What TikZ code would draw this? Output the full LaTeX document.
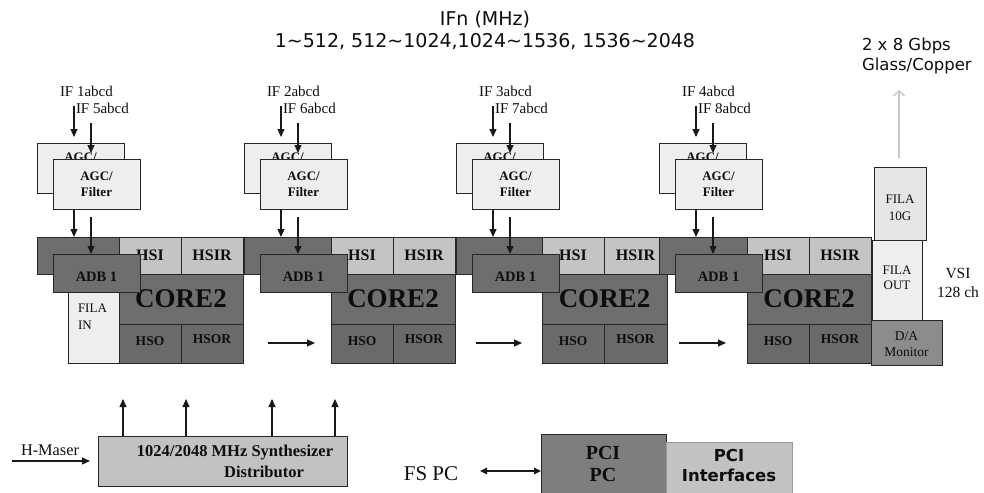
\documentclass[tikz,border=0pt]{standalone}
\usepackage{fontspec}
\setmainfont{Liberation Serif}
\newfontfamily\vfont{DejaVu Sans}
\usetikzlibrary{arrows.meta}

\definecolor{lightfill}{HTML}{EEEEEE}
\definecolor{filagfill}{HTML}{E6E6E6}
\definecolor{darkfill}{HTML}{6E6E6E}
\definecolor{hsofill}{HTML}{6A6A6A}
\definecolor{hsifill}{HTML}{C4C4C4}
\definecolor{dafill}{HTML}{8C8C8C}
\definecolor{synthfill}{HTML}{C2C2C2}
\definecolor{pcifill}{HTML}{7E7E7E}
\definecolor{ifacefill}{HTML}{C2C2C2}
\definecolor{edge}{HTML}{262626}
\definecolor{fibre}{HTML}{C8C8C8}

\newcommand\fs[2]{\fontsize{#1}{#2}\selectfont}
% shift a label vertically without changing the size the node sees
\newcommand\vshift[2]{\raisebox{#1}[\height][\depth]{#2}}
% rectangle node given by its corners: style, name, x1, y1, x2, y2, text
\newcommand\rectnode[7]{%
  \node[#1, anchor=north west, minimum width={(#5)-(#3)},
        minimum height={(#6)-(#4)}] (#2) at (#3,#4) {#7};}

\tikzset{
  box/.style={draw=edge, line width=1pt, inner sep=0pt, outer sep=0pt,
              align=center, text=black!95},
  agcbox/.style={box, fill=lightfill, font=\bfseries\fs{13}{16}},
  adbbox/.style={box, fill=darkfill, font=\bfseries\fs{14.5}{17}},
  hsibox/.style={box, fill=hsifill, font=\bfseries\fs{16}{18}},
  corebox/.style={box, fill=darkfill, font=\bfseries\fs{27}{30}},
  hsobox/.style={box, fill=hsofill, font=\bfseries\fs{13.5}{16}},
  filabox/.style={box, fill=lightfill, font=\fs{13}{16.5}},
  txt/.style={inner sep=0pt, outer sep=0pt, text=black!95},
  iflabel/.style={txt, anchor=west, font=\fs{15}{17}},
  arr/.style={draw=black!90, line width=1.1pt, -{Triangle[length=8pt,width=7pt]}},
  dblarr/.style={draw=black!90, line width=1.1pt,
                 {Triangle[length=7pt,width=6.5pt]}-{Triangle[length=7pt,width=6.5pt]}},
  fibrearr/.style={draw=fibre, line width=1.4pt, -{Straight Barb[length=5pt,width=11pt]}},
  sans/.style={txt, font=\vfont\fs{19}{22}},
}

\begin{document}
\begin{tikzpicture}[x=1pt,y=-1pt]
\useasboundingbox (0,0) rectangle (984,492);
\clip (0,0) rectangle (984,492);

% frequency plan heading
\node[sans] (head1) at (485,20) {IFn (MHz)};
\node[sans] (head2) at (485,42) {1\textasciitilde512, 512\textasciitilde1024,1024\textasciitilde1536, 1536\textasciitilde2048};

% four IF processing chains: AGC/filter pair, ADB pair and a CORE2 block
\foreach \bx/\cx/\rx/\p/\q/\n in {37/119/243/1/5/1, 244/331/455/2/6/2,
                                  456/542/667/3/7/3, 659/747/871/4/8/4}{
  \rectnode{agcbox}{agcB\n}{\bx}{143}{\bx+87}{193}{AGC/\\Filter\rule[-6pt]{0pt}{6pt}}
  \rectnode{agcbox}{agcF\n}{\bx+16}{159}{\bx+103}{209}{AGC/\\Filter}
  \rectnode{adbbox}{adbB\n}{\bx}{237}{\cx}{274}{}
  \rectnode{hsibox}{hsi\n}{\cx}{237}{\cx+62}{274}{HSI}
  \rectnode{hsibox}{hsir\n}{\cx+62}{237}{\rx}{274}{HSIR}
  \rectnode{corebox}{core\n}{\cx}{274}{\rx}{324}{CORE2}
  \rectnode{hsobox}{hso\n}{\cx}{324}{\cx+62}{363}{\vshift{2pt}{HSO}}
  \rectnode{hsobox}{hsor\n}{\cx+62}{324}{\rx}{363}{\vshift{4pt}{HSOR}}
  \rectnode{adbbox}{adbF\n}{\bx+16}{254}{\bx+103}{292}{\vshift{-4pt}{ADB 1}}

  \node[iflabel] (ifa\n) at (\bx+23,91) {IF \p abcd};
  \node[iflabel] (ifb\n) at (\bx+39,108) {IF \q abcd};
  \coordinate (ia\n) at (\bx+37,106);
  \coordinate (ib\n) at (\bx+54,123);

  \draw[arr, shorten >=6pt] (ia\n) -- (ia\n |- agcB\n.north);
  \draw[arr, shorten >=6pt] (ib\n) -- (ib\n |- agcF\n.north);
  \draw[arr] (agcF\n.south -| ia\n) -- (ia\n |- adbB\n.north);
  \draw[arr, shorten <=8pt] (agcF\n.south -| ib\n) -- (ib\n |- adbF\n.north);
}

% FILA input board
\rectnode{filabox}{filain}{68}{292}{119}{363}{}
\node[txt, anchor=north west, align=left, font=\fs{13}{17}] (filainT) at (78,304) {FILA\\IN};

% data flow between the cores
\coordinate (f1a) at (268,343); \coordinate (f1b) at (315,343);
\coordinate (f2a) at (476,343); \coordinate (f2b) at (522,343);
\coordinate (f3a) at (679,343); \coordinate (f3b) at (726,343);
\draw[arr] (f1a) -- (f1b);
\draw[arr] (f2a) -- (f2b);
\draw[arr] (f3a) -- (f3b);

% output side
\rectnode{filabox, fill=filagfill}{fila10}{874}{167}{926}{240}{\vshift{-5pt}{\begin{tabular}{@{}c@{}}FILA\\10G\end{tabular}}}
\rectnode{filabox, font=\fs{13}{15.5}}{filaout}{872}{240}{922}{320}{\vshift{1pt}{\begin{tabular}{@{}c@{}}FILA\\OUT\end{tabular}}}
\rectnode{filabox, fill=dafill, font=\fs{13.5}{16}}{damon}{871}{320}{942}{365}{\vshift{-3pt}{\begin{tabular}{@{}c@{}}D/A\\Monitor\end{tabular}}}
\node[txt, align=center, font=\fs{15.5}{19}] (vsi) at (958,283) {VSI\\128 ch};

\coordinate (gtop) at (899,90);
\draw[fibrearr, shorten <=9pt] (fila10.north -| gtop) -- (gtop);
\node[txt, anchor=north west, align=left, font=\vfont\fs{16.5}{20}] (gbps) at (862,38) {2 x 8 Gbps\\Glass/Copper};

% clock distribution
\rectnode{box, fill=synthfill}{synth}{98}{436}{347}{486}{}
\node[txt, font=\bfseries\fs{16.5}{18}] (synthT1) at (235,453) {1024/2048 MHz Synthesizer};
\node[txt, font=\bfseries\fs{16.5}{18}] (synthT2) at (264,472) {Distributor};
\foreach \ux [count=\k] in {123,186,272,335}{
  \coordinate (up\k) at (\ux,399);
  \draw[arr] (synth.north -| up\k) -- (up\k);
}
\node[txt, anchor=west, font=\fs{16.3}{18}] (hmaser) at (21,450) {H-Maser};
\coordinate (hm) at (12,461);
\draw[arr, shorten >=8pt] (hm) -- (hm -| synth.west);

% control PC
\rectnode{box, fill=pcifill}{pcipc}{541}{434}{666}{500}{}
\node[txt, align=center, font=\bfseries\fs{20}{22}] (pcipcT) at (603,464) {PCI\\PC};
\rectnode{box, draw=black!40, fill=ifacefill}{pciif}{666}{442}{792}{500}{}
\node[txt, align=center, font=\vfont\bfseries\fs{16.5}{20}] (pciifT) at (729,465) {PCI\\Interfaces};
\node[txt, font=\fs{21}{23}] (fspc) at (431,474) {FS PC};
\coordinate (fsa) at (480,471);
\draw[dblarr] (fsa) -- (fsa -| pcipc.west);

\end{tikzpicture}
\end{document}
